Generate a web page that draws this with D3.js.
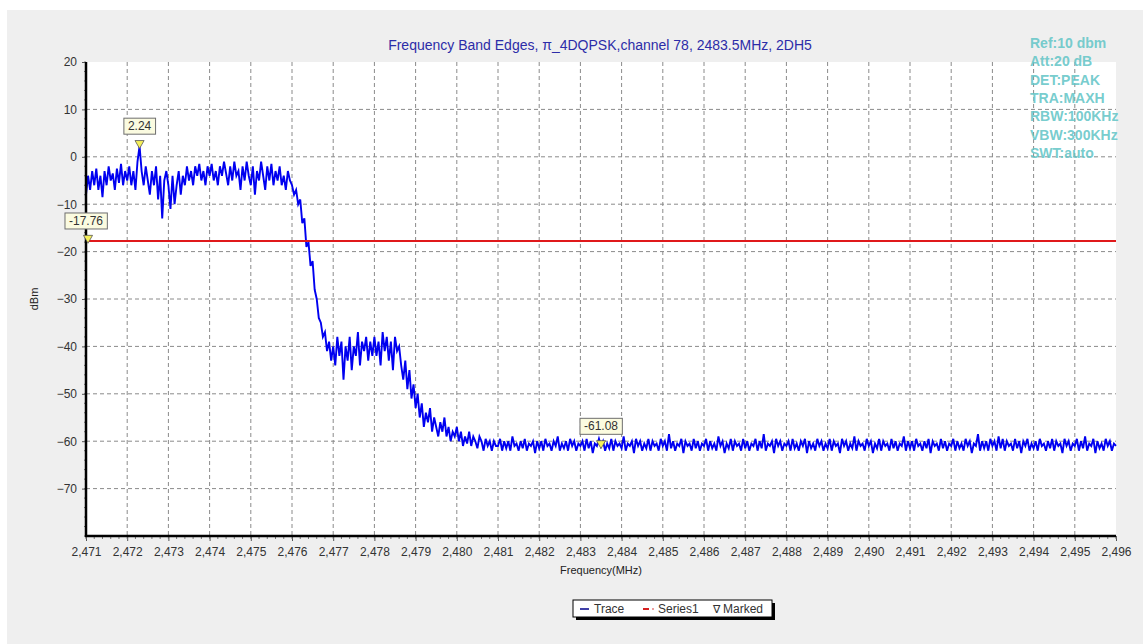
<!DOCTYPE html>
<html>
<head>
<meta charset="utf-8">
<script src="https://cdn.jsdelivr.net/npm/d3@7"></script>
<style>
    body { margin: 0; background: #fff; font-family: Arial, "Liberation Sans", sans-serif; }
    .tick text { font-family: Arial, "Liberation Sans", sans-serif; }
</style>
</head>
<body>
<svg id="chart"></svg>
<script>
// sweep settings
const freqStart = 2471;
const freqStep = 0.05;

// trace values (dBm), one per 0.05 MHz
const traceInBand = [
    -8, -4, -7, -3, -6, -2.5, -7, -4, -8.5, -3, -6, -2, -5, -3.5, -7, -2.5, -5.5, -1.5, -6, -3,
    -5, -2, -6, -3, -7, -1, 2.24, -3, -6, -2, -5, -8, -3, -6, -2, -9, -4, -13, -5, -3,
    -6, -11, -4, -10, -6, -3, -8, -4, -6, -2, -5, -3, -6, -2, -4, -1.5, -5, -3, -6, -2,
    -4, -1.5, -5, -3, -6, -2, -4, -1, -3.5, -6, -2, -5, -1, -4, -3, -7, -2, -5, -1, -4,
    -6, -2, -8, -3, -5, -1, -4, -7, -2, -5, -1.5, -6, -3, -5, -2, -6, -4, -7, -3, -5
];
const traceEdge = [
    -6, -8, -7, -10, -9, -14, -13, -19, -18, -23, -22, -28, -30, -34, -35, -38, -37, -41, -39, -43,
    -40, -44, -38, -42, -39, -47, -40, -43, -38, -45, -40, -42, -37, -44, -39, -41, -38, -43, -39, -42,
    -38, -42, -39, -44, -37, -41, -38, -43, -39, -45, -38, -41, -40, -44, -47, -43, -49, -45, -51, -48,
    -53, -50, -55, -52, -57, -54, -56, -53, -58, -55, -57, -59, -56, -58, -55, -59, -57, -60, -58, -59,
    -57, -60, -58, -61, -59, -60.5, -58, -61, -59, -60, -61.5, -59, -60, -62, -59.5, -61, -60, -62, -60, -61
];
const traceFloor = [
    -61, -59.5, -62, -60, -61.5, -60, -62, -59, -61, -60.5, -62, -60, -61.5, -59.5, -62, -60.5, -61, -60, -62.5, -60,
    -61.5, -60, -62, -59.5, -61, -60.5, -62, -60, -61, -59, -62, -60.5, -61.5, -60, -62, -59.5, -61, -60, -62, -60.5,
    -61, -60, -62, -59.5, -61.5, -60, -62.5, -60.5, -61, -59.5, -61.08, -60, -62, -60.5, -61.5, -59.5, -62, -60, -61, -60.5,
    -61.5, -59, -62, -60.5, -61, -60, -62.5, -59.5, -61, -60, -62, -60.5, -61.5, -59.5, -62, -60, -61, -60.5, -62, -59.5,
    -61, -60, -62, -58.5, -61.5, -60, -62, -60.5, -61, -59.5, -62.5, -60, -61, -60.5, -62, -59.5, -61.5, -60, -62, -60.5,
    -61, -59.5, -62, -60, -61.5, -60.5, -62, -59, -61, -60, -62.5, -60.5, -61.5, -59.5, -62, -60, -61, -60.5, -62, -59.5,
    -61.5, -60, -62, -60.5, -61, -59.5, -62, -60, -61.5, -58.5, -62, -60.5, -61, -60, -62.5, -59.5, -61, -60, -62, -60.5,
    -61, -60, -62, -59.5, -61.5, -60.5, -62, -60, -61, -59.5, -62.5, -60, -61.5, -60.5, -62, -59.5, -61, -60, -62, -60.5,
    -61.5, -59.5, -62, -60, -61, -60.5, -62.5, -59.5, -61, -60, -62, -60.5, -61.5, -59, -62, -60, -61, -60.5, -62, -59.5,
    -61, -60, -62.5, -60.5, -61.5, -59.5, -62, -60, -61, -60.5, -62, -59.5, -61.5, -60, -62, -60.5, -61, -59, -62, -60,
    -61.5, -60, -62, -59.5, -61, -60.5, -62, -60, -61.5, -59.5, -62.5, -60, -61, -60.5, -62, -59.5, -61.5, -60, -62, -60.5,
    -61, -59.5, -62, -60, -61.5, -60.5, -62, -59.5, -61, -60, -62.5, -60.5, -61, -58.5, -62, -60, -61.5, -60, -62, -59.5,
    -61, -60, -62, -59, -61.5, -59.5, -62, -60, -61, -60.5, -62, -59.5, -61.5, -60, -62.5, -60, -61, -59.5, -62, -60.5,
    -61.5, -60, -62, -59.5, -61, -60.5, -62, -60, -61.5, -59.5, -62, -60, -61, -60.5, -62.5, -59.5, -61, -60, -62, -60.5,
    -61, -59.5, -62, -60, -61.5, -59, -62, -60.5, -61, -59.5, -62.5, -60, -61.5, -60.5, -62, -59.5, -61, -60, -62, -60.5,
    -61
];

// markers and limit line
const markerFreqs = [2471, 2472.3, 2483.5];
const markerValues = [-17.76, 2.24, -61.08];
const limitLevel = -17.76;

const xTicks = d3.range(2471, 2497, 1);
const yTicks = [20, 10, 0, -10, -20, -30, -40, -50, -60, -70];

const infoLines = ['Ref:10 dbm', 'Att:20 dB', 'DET:PEAK', 'TRA:MAXH', 'RBW:100KHz', 'VBW:300KHz', 'SWT:auto'];
const chartTitle = 'Frequency Band Edges, \u03c0_4DQPSK,channel 78, 2483.5MHz, 2DH5';

const W = 1148, H = 644;
const margin = {top: 62, right: 32, bottom: 108, left: 86};
const width = W - margin.left - margin.right;
const height = H - margin.top - margin.bottom;

const traceValues = traceInBand.concat(traceEdge, traceFloor);
const trace = traceValues.map((v, i) => ({f: freqStart + i * freqStep, v: v}));
const markers = markerFreqs.map((f, i) => ({f: f, v: markerValues[i]}));

const svg = d3.select('#chart').attr('width', W).attr('height', H);

// gray panel
svg.append('rect')
    .attr('x', 7).attr('y', 10)
    .attr('width', 1136).attr('height', H - 10)
    .attr('fill', '#efefef');

const g = svg.append('g').attr('transform', `translate(${margin.left},${margin.top})`);

const xScale = d3.scaleLinear().domain([2471, 2496]).range([0, width]);
const yScale = d3.scaleLinear().domain([-80, 20]).range([height, 0]);

g.append('rect').attr('width', width).attr('height', height).attr('fill', '#fff');

// grid
g.append('g').selectAll('line').data(xTicks.slice(1, -1)).join('line')
    .attr('x1', d => xScale(d)).attr('x2', d => xScale(d))
    .attr('y1', 0).attr('y2', height)
    .attr('stroke', '#8a8a8a').attr('stroke-dasharray', '4,3');
g.append('g').selectAll('line').data(yTicks.slice(1)).join('line')
    .attr('x1', 0).attr('x2', width)
    .attr('y1', d => yScale(d)).attr('y2', d => yScale(d))
    .attr('stroke', '#8a8a8a').attr('stroke-dasharray', '4,3');

// trace
const line = d3.line().x(d => xScale(d.f)).y(d => yScale(d.v));
g.append('path').datum(trace)
    .attr('d', line)
    .attr('fill', 'none')
    .attr('stroke', '#0000f0')
    .attr('stroke-width', 1.9)
    .attr('stroke-linejoin', 'miter');

// limit line
g.append('line')
    .attr('x1', 0).attr('x2', width)
    .attr('y1', yScale(limitLevel)).attr('y2', yScale(limitLevel))
    .attr('stroke', '#e0191b').attr('stroke-width', 2);

// axes
const xAxis = d3.axisBottom(xScale).tickValues(xTicks).tickFormat(d3.format(',')).tickSize(5).tickPadding(6);
const xAxisG = g.append('g').attr('transform', `translate(0,${height})`).call(xAxis);
const yAxis = d3.axisLeft(yScale).tickValues(yTicks).tickSize(4).tickPadding(5);
const yAxisG = g.append('g').call(yAxis);

[xAxisG, yAxisG].forEach(a => {
    a.select('.domain').remove();
    a.selectAll('.tick line').attr('stroke', '#555');
    a.selectAll('.tick text').attr('font-size', 12).attr('fill', '#333');
});

// minor ticks
g.append('g').selectAll('line').data(d3.range(2471, 2496.01, 0.2)).join('line')
    .attr('x1', d => xScale(d)).attr('x2', d => xScale(d))
    .attr('y1', height).attr('y2', height + 3)
    .attr('stroke', '#777');
g.append('g').selectAll('line').data(d3.range(-80, 20.01, 2)).join('line')
    .attr('x1', -2).attr('x2', 0)
    .attr('y1', d => yScale(d)).attr('y2', d => yScale(d))
    .attr('stroke', '#777');

g.append('line').attr('x1', 0).attr('x2', 0).attr('y1', 0).attr('y2', height + 1)
    .attr('stroke', '#000').attr('stroke-width', 2.5);
g.append('line').attr('x1', -1).attr('x2', width).attr('y1', height).attr('y2', height)
    .attr('stroke', '#000').attr('stroke-width', 2.5);

// markers
const markerG = g.append('g').selectAll('g').data(markers).join('g')
    .attr('transform', d => `translate(${xScale(d.f) + (d.f === 2471 ? 2 : 0)},${yScale(d.v)})`);
markerG.append('path')
    .attr('d', d3.symbol(d3.symbolTriangle, 36))
    .attr('transform', 'translate(0,-3) rotate(180)')
    .attr('fill', '#f6f05a').attr('stroke', '#555').attr('stroke-width', 0.8);
markerG.each(function(d) {
    const m = d3.select(this);
    const t = m.append('text')
        .attr('x', d.f === 2471 ? -2 : 0).attr('y', -16)
        .attr('text-anchor', 'middle')
        .attr('font-size', 12).attr('fill', '#333')
        .text(d.v.toFixed(2));
    const bb = t.node().getBBox();
    m.insert('rect', 'text')
        .attr('x', bb.x - 4).attr('y', -28)
        .attr('width', bb.width + 8).attr('height', 16)
        .attr('fill', '#fbfbe0').attr('stroke', '#6e6e6e');
});

// labels
svg.append('text')
    .attr('x', 600).attr('y', 50)
    .attr('text-anchor', 'middle')
    .attr('font-size', 14).attr('fill', '#2c2ca8')
    .text(chartTitle);

svg.append('text')
    .attr('x', margin.left + width / 2).attr('y', 574)
    .attr('text-anchor', 'middle')
    .attr('font-size', 11).attr('fill', '#222')
    .text('Frequency(MHz)');

svg.append('text')
    .attr('transform', `translate(38,${margin.top + yScale(-30)}) rotate(-90)`)
    .attr('text-anchor', 'middle')
    .attr('font-size', 11).attr('fill', '#222')
    .text('dBm');

svg.append('g').selectAll('text').data(infoLines).join('text')
    .attr('x', 1030).attr('y', (d, i) => 48 + i * 18.3)
    .attr('font-size', 14).attr('font-weight', 'bold')
    .attr('fill', '#66c6c8').attr('fill-opacity', 0.9)
    .text(d => d);

// legend
const legend = svg.append('g').attr('transform', 'translate(573,600)');
legend.append('rect').attr('x', 3).attr('y', 3).attr('width', 199).attr('height', 17).attr('fill', '#000');
legend.append('rect').attr('x', 0).attr('y', 0).attr('width', 199).attr('height', 17)
    .attr('fill', '#fff').attr('stroke', '#000');
legend.append('line').attr('x1', 7).attr('x2', 16).attr('y1', 9).attr('y2', 9)
    .attr('stroke', '#00008b').attr('stroke-width', 1.5);
legend.append('text').attr('x', 21).attr('y', 13).attr('font-size', 12).attr('fill', '#333').text('Trace');
legend.append('line').attr('x1', 70).attr('x2', 76).attr('y1', 9).attr('y2', 9)
    .attr('stroke', '#d62020').attr('stroke-width', 2);
legend.append('circle').attr('cx', 80).attr('cy', 9).attr('r', 0.8).attr('fill', '#d62020');
legend.append('text').attr('x', 85).attr('y', 13).attr('font-size', 12).attr('fill', '#333').text('Series1');
legend.append('text').attr('x', 140).attr('y', 13).attr('font-size', 11).attr('fill', '#333').text('\u2207');
legend.append('text').attr('x', 150).attr('y', 13).attr('font-size', 12).attr('fill', '#333').text('Marked');
</script>
</body>
</html>
